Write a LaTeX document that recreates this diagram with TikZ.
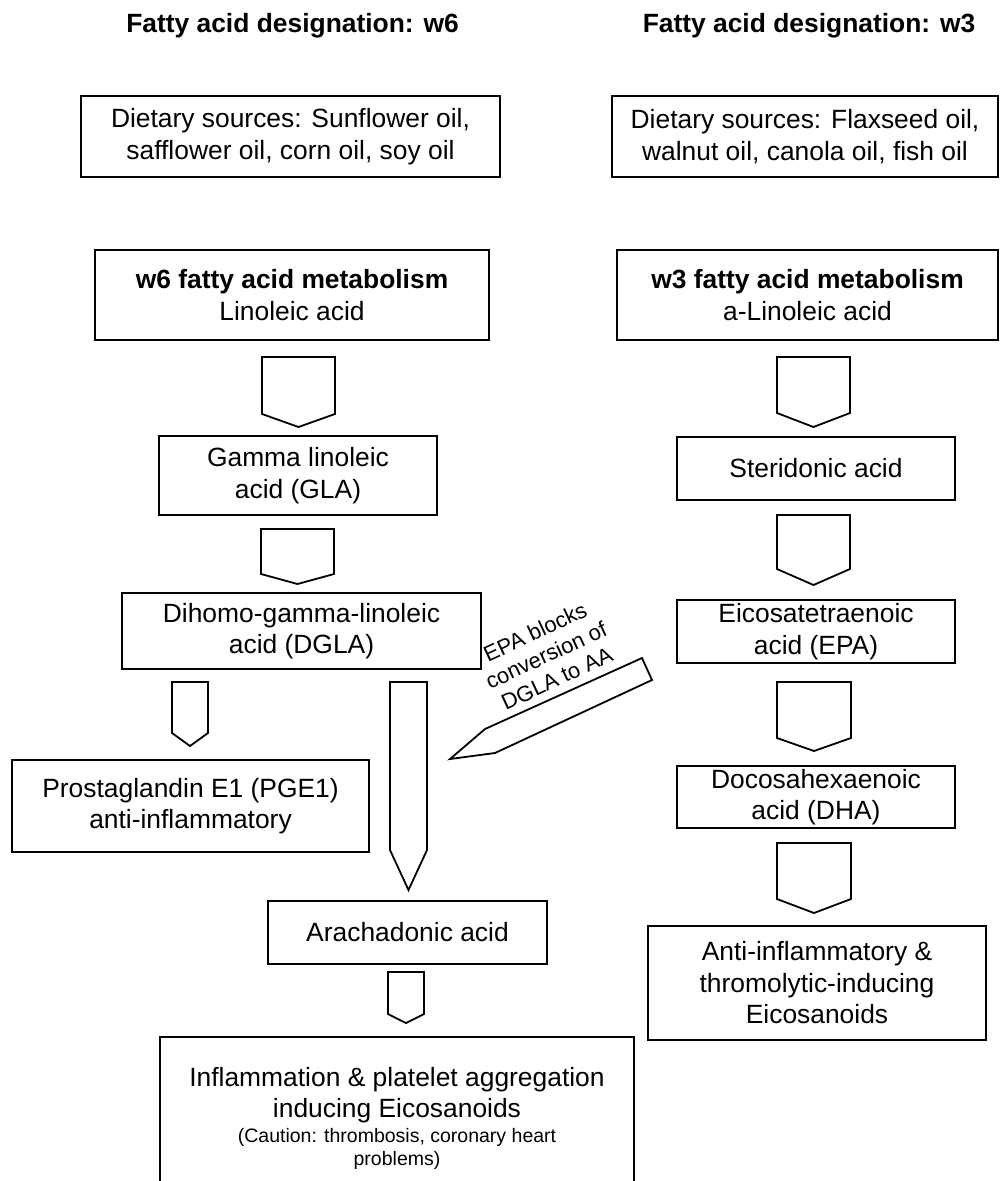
\documentclass[tikz,border=0pt]{standalone}
\usepackage{fontspec}
\setmainfont{Liberation Sans}
\newcommand\fmain{\fontsize{26.4}{31.5}\selectfont}
\newcommand\fsmall{\fontsize{19.5}{23.5}\selectfont}
\newcommand\fdiag{\fontsize{22}{25.7}\selectfont}
\newcommand\barr[5]{\draw[barrow] (#1,#3) -- (#2,#3) -- (#2,#4) -- ({(#1+#2)/2},#5) -- (#1,#4) -- cycle;}
\begin{document}
\begin{tikzpicture}[x=1pt,y=-1pt,line width=1.8pt,
  box/.style={draw, inner sep=0pt, align=center, font=\fmain},
  barrow/.style={draw, line join=miter},
  title/.style={font=\fmain\bfseries, anchor=base}]
\path[use as bounding box] (0,0) rectangle (999,1181);
\clip (0,0) rectangle (999,1181);

% titles
\node[title] (t6) at (292.5,32) {Fatty acid designation: w6};
\node[title] (t3) at (809,32) {Fatty acid designation: w3};

% w6 column
\node[box, minimum width=419pt, minimum height=81pt] (d6) at (290.5,136.5) {Dietary sources: Sunflower oil,\\ safflower oil, corn oil, soy oil};
\node[box, minimum width=394pt, minimum height=90pt] (m6) at (292,295) {\textbf{w6 fatty acid metabolism}\\ Linoleic acid};
\barr{262}{335}{357}{414}{427}
\node[box, minimum width=278pt, minimum height=79pt] (gla) at (298,475.5) {Gamma linoleic\\ acid (GLA)};
\barr{261}{334}{529}{574}{584}
\node[box, minimum width=359pt, minimum height=76pt] (dgla) at (301.5,631) {Dihomo-gamma-linoleic\\ acid (DGLA)};
\barr{172}{208}{682}{733}{746}
\barr{390}{427}{682}{850}{890}
\node[box, minimum width=357pt, minimum height=92pt] (pge) at (190.5,806) {Prostaglandin E1 (PGE1)\\ anti-inflammatory};
\node[box, minimum width=279pt, minimum height=63pt] (aa) at (407.5,932.5) {Arachadonic acid};
\barr{388}{424}{972}{1014}{1023}
\node[box, minimum width=474pt, minimum height=170pt, anchor=north] (inf) at (397,1036) {};
\node[font=\fmain, anchor=base] (bt1) at (397,1086) {Inflammation \& platelet aggregation};
\node[font=\fmain, anchor=base] (bt2) at (397,1117) {inducing Eicosanoids};
\node[font=\fsmall, anchor=base] (bt3) at (397,1142) {(Caution: thrombosis, coronary heart};
\node[font=\fsmall, anchor=base] (bt4) at (397,1165) {problems)};

% blocking arrow
\draw[barrow] (652,680) -- (642,658) -- (485,729) -- (450,759) -- (495,753) -- cycle;
\node[font=\fdiag, align=center, rotate=25] (epa-note) at (546,655) {EPA blocks\\ conversion of\\ DGLA to AA};

% w3 column
\node[box, minimum width=386pt, minimum height=81pt] (d3) at (805,136.5) {Dietary sources: Flaxseed oil,\\ walnut oil, canola oil, fish oil};
\node[box, minimum width=381pt, minimum height=90pt] (m3) at (807.5,295) {\textbf{w3 fatty acid metabolism}\\ a-Linoleic acid};
\barr{777}{850}{357}{413}{427}
\node[box, minimum width=278pt, minimum height=63pt] (sda) at (816,468.5) {Steridonic acid};
\barr{777}{850}{515}{569}{585}
\node[box, minimum width=278pt, minimum height=63pt] (epa) at (816,631.5) {Eicosatetraenoic\\ acid (EPA)};
\barr{777}{851}{682}{738}{751}
\node[box, minimum width=278pt, minimum height=62pt] (dha) at (816,797) {Docosahexaenoic\\ acid (DHA)};
\barr{777}{851}{843}{899}{913}
\node[box, minimum width=338pt, minimum height=114pt] (anti) at (817,983) {Anti-inflammatory \&\\ thromolytic-inducing\\ Eicosanoids};
\end{tikzpicture}
\end{document}
